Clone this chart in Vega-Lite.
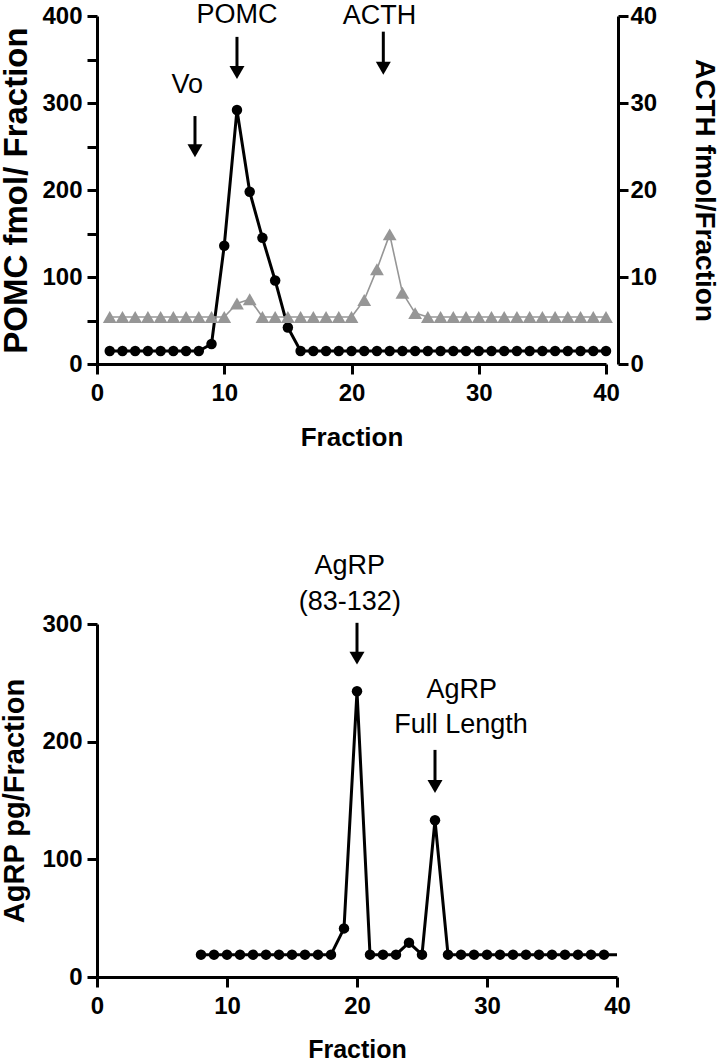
{
  "$schema": "https://vega.github.io/schema/vega-lite/v6.json",
  "padding": {"left": 0, "top": 0, "right": 0, "bottom": 0},
  "datasets": {
    "top": [
      {"fraction": 1, "pomc": 15, "acth": 5.4},
      {"fraction": 2, "pomc": 15, "acth": 5.4},
      {"fraction": 3, "pomc": 15, "acth": 5.4},
      {"fraction": 4, "pomc": 15, "acth": 5.4},
      {"fraction": 5, "pomc": 15, "acth": 5.4},
      {"fraction": 6, "pomc": 15, "acth": 5.4},
      {"fraction": 7, "pomc": 15, "acth": 5.4},
      {"fraction": 8, "pomc": 15, "acth": 5.4},
      {"fraction": 9, "pomc": 23, "acth": 5.4},
      {"fraction": 10, "pomc": 136, "acth": 5.4},
      {"fraction": 11, "pomc": 292, "acth": 6.95},
      {"fraction": 12, "pomc": 198, "acth": 7.45},
      {"fraction": 13, "pomc": 145, "acth": 5.4},
      {"fraction": 14, "pomc": 96, "acth": 5.4},
      {"fraction": 15, "pomc": 42, "acth": 5.4},
      {"fraction": 16, "pomc": 15, "acth": 5.4},
      {"fraction": 17, "pomc": 15, "acth": 5.4},
      {"fraction": 18, "pomc": 15, "acth": 5.4},
      {"fraction": 19, "pomc": 15, "acth": 5.4},
      {"fraction": 20, "pomc": 15, "acth": 5.4},
      {"fraction": 21, "pomc": 15, "acth": 7.35},
      {"fraction": 22, "pomc": 15, "acth": 10.9},
      {"fraction": 23, "pomc": 15, "acth": 14.9},
      {"fraction": 24, "pomc": 15, "acth": 8.2},
      {"fraction": 25, "pomc": 15, "acth": 5.85},
      {"fraction": 26, "pomc": 15, "acth": 5.4},
      {"fraction": 27, "pomc": 15, "acth": 5.4},
      {"fraction": 28, "pomc": 15, "acth": 5.4},
      {"fraction": 29, "pomc": 15, "acth": 5.4},
      {"fraction": 30, "pomc": 15, "acth": 5.4},
      {"fraction": 31, "pomc": 15, "acth": 5.4},
      {"fraction": 32, "pomc": 15, "acth": 5.4},
      {"fraction": 33, "pomc": 15, "acth": 5.4},
      {"fraction": 34, "pomc": 15, "acth": 5.4},
      {"fraction": 35, "pomc": 15, "acth": 5.4},
      {"fraction": 36, "pomc": 15, "acth": 5.4},
      {"fraction": 37, "pomc": 15, "acth": 5.4},
      {"fraction": 38, "pomc": 15, "acth": 5.4},
      {"fraction": 39, "pomc": 15, "acth": 5.4},
      {"fraction": 40, "pomc": 15, "acth": 5.4}
    ],
    "topArrows": [
      {"x": 7.7, "top": 285, "head": 245},
      {"x": 11, "top": 376, "head": 335},
      {"x": 22.5, "top": 382, "head": 340}
    ],
    "topLabels": [
      {"x": 7.09, "y": 311, "text": "Vo"},
      {"x": 11.0, "y": 392, "text": "POMC"},
      {"x": 22.2, "y": 391, "text": "ACTH"}
    ],
    "bottom": [
      {"fraction": 8, "agrp": 19},
      {"fraction": 9, "agrp": 19},
      {"fraction": 10, "agrp": 19},
      {"fraction": 11, "agrp": 19},
      {"fraction": 12, "agrp": 19},
      {"fraction": 13, "agrp": 19},
      {"fraction": 14, "agrp": 19},
      {"fraction": 15, "agrp": 19},
      {"fraction": 16, "agrp": 19},
      {"fraction": 17, "agrp": 19},
      {"fraction": 18, "agrp": 19},
      {"fraction": 19, "agrp": 41.3},
      {"fraction": 20, "agrp": 242.8},
      {"fraction": 21, "agrp": 19},
      {"fraction": 22, "agrp": 19},
      {"fraction": 23, "agrp": 19},
      {"fraction": 24, "agrp": 29.2},
      {"fraction": 25, "agrp": 19},
      {"fraction": 26, "agrp": 133.2},
      {"fraction": 27, "agrp": 19},
      {"fraction": 28, "agrp": 19},
      {"fraction": 29, "agrp": 19},
      {"fraction": 30, "agrp": 19},
      {"fraction": 31, "agrp": 19},
      {"fraction": 32, "agrp": 19},
      {"fraction": 33, "agrp": 19},
      {"fraction": 34, "agrp": 19},
      {"fraction": 35, "agrp": 19},
      {"fraction": 36, "agrp": 19},
      {"fraction": 37, "agrp": 19},
      {"fraction": 38, "agrp": 19},
      {"fraction": 39, "agrp": 19},
      {"fraction": 40, "agrp": 19}
    ],
    "bottomArrows": [
      {"x": 20, "top": 301, "head": 271},
      {"x": 26, "top": 193, "head": 162}
    ],
    "bottomLabels": [
      {"x": 19.45, "y": 342.6, "text": "AgRP"},
      {"x": 19.45, "y": 311.5, "text": "(83-132)"},
      {"x": 28.05, "y": 237, "text": "AgRP"},
      {"x": 28.0, "y": 207.5, "text": "Full Length"}
    ]
  },
  "vconcat": [
    {
      "width": 509,
      "height": 348,
      "layer": [
        {
          "layer": [
            {
              "data": {"name": "top"},
              "mark": {"type": "line", "color": "black", "strokeWidth": 3, "strokeJoin": "round"},
              "encoding": {
                "x": {"field": "fraction", "type": "quantitative", "scale": {"domain": [0, 40], "nice": false},
                      "axis": {"title": "Fraction", "values": [0, 10, 20, 30, 40], "labelPadding": 7, "titlePadding": 19, "titleFontSize": 26}},
                "y": {"field": "pomc", "type": "quantitative", "scale": {"domain": [0, 400], "nice": false},
                      "axis": {"title": "POMC fmol/ Fraction", "values": [0, 50, 100, 150, 200, 250, 300, 350, 400],
                               "labelExpr": "datum.value % 100 === 0 ? datum.label : ''", "labelPadding": 5, "titlePadding": 8, "titleFontSize": 33}}
              }
            },
            {
              "data": {"name": "top"},
              "mark": {"type": "point", "shape": "circle", "filled": true, "size": 110, "color": "black", "opacity": 1},
              "encoding": {
                "x": {"field": "fraction", "type": "quantitative", "scale": {"domain": [0, 40], "nice": false},
                      "axis": {"title": "Fraction", "values": [0, 10, 20, 30, 40], "labelPadding": 7, "titlePadding": 19, "titleFontSize": 26}},
                "y": {"field": "pomc", "type": "quantitative", "scale": {"domain": [0, 400], "nice": false},
                      "axis": {"title": "POMC fmol/ Fraction", "values": [0, 50, 100, 150, 200, 250, 300, 350, 400],
                               "labelExpr": "datum.value % 100 === 0 ? datum.label : ''", "labelPadding": 5, "titlePadding": 8, "titleFontSize": 33}}
              }
            },
            {
              "data": {"name": "topArrows"},
              "mark": {"type": "rule", "color": "black", "strokeWidth": 3},
              "encoding": {
                "x": {"field": "x", "type": "quantitative", "scale": {"domain": [0, 40], "nice": false},
                      "axis": {"title": "Fraction", "values": [0, 10, 20, 30, 40], "labelPadding": 7, "titlePadding": 19, "titleFontSize": 26}},
                "y": {"field": "top", "type": "quantitative", "scale": {"domain": [0, 400], "nice": false},
                      "axis": {"title": "POMC fmol/ Fraction", "values": [0, 50, 100, 150, 200, 250, 300, 350, 400],
                               "labelExpr": "datum.value % 100 === 0 ? datum.label : ''", "labelPadding": 5, "titlePadding": 8, "titleFontSize": 33}},
                "y2": {"field": "head"}
              }
            },
            {
              "data": {"name": "topArrows"},
              "mark": {"type": "point", "shape": "triangle-down", "filled": true, "size": 225, "color": "black", "opacity": 1},
              "encoding": {
                "x": {"field": "x", "type": "quantitative", "scale": {"domain": [0, 40], "nice": false},
                      "axis": {"title": "Fraction", "values": [0, 10, 20, 30, 40], "labelPadding": 7, "titlePadding": 19, "titleFontSize": 26}},
                "y": {"field": "head", "type": "quantitative", "scale": {"domain": [0, 400], "nice": false},
                      "axis": {"title": "POMC fmol/ Fraction", "values": [0, 50, 100, 150, 200, 250, 300, 350, 400],
                               "labelExpr": "datum.value % 100 === 0 ? datum.label : ''", "labelPadding": 5, "titlePadding": 8, "titleFontSize": 33}}
              }
            },
            {
              "data": {"name": "topLabels"},
              "mark": {"type": "text", "font": "Liberation Sans", "fontSize": 27, "align": "center", "baseline": "alphabetic", "color": "black"},
              "encoding": {
                "x": {"field": "x", "type": "quantitative", "scale": {"domain": [0, 40], "nice": false},
                      "axis": {"title": "Fraction", "values": [0, 10, 20, 30, 40], "labelPadding": 7, "titlePadding": 19, "titleFontSize": 26}},
                "y": {"field": "y", "type": "quantitative", "scale": {"domain": [0, 400], "nice": false},
                      "axis": {"title": "POMC fmol/ Fraction", "values": [0, 50, 100, 150, 200, 250, 300, 350, 400],
                               "labelExpr": "datum.value % 100 === 0 ? datum.label : ''", "labelPadding": 5, "titlePadding": 8, "titleFontSize": 33}},
                "text": {"field": "text"}
              }
            }
          ]
        },
        {
          "layer": [
            {
              "data": {"name": "top"},
              "mark": {"type": "line", "color": "#969696", "strokeWidth": 1.6, "strokeJoin": "round"},
              "encoding": {
                "x": {"field": "fraction", "type": "quantitative", "scale": {"domain": [0, 40], "nice": false},
                      "axis": {"title": "Fraction", "values": [0, 10, 20, 30, 40], "labelPadding": 7, "titlePadding": 19, "titleFontSize": 26}},
                "y": {"field": "acth", "type": "quantitative", "scale": {"domain": [0, 40], "nice": false},
                      "axis": {"orient": "right", "title": "ACTH fmol/Fraction", "values": [0, 10, 20, 30, 40], "offset": 12, "labelPadding": 2, "titlePadding": 33, "titleFontSize": 28}}
              }
            },
            {
              "data": {"name": "top"},
              "mark": {"type": "point", "shape": "triangle-up", "filled": true, "size": 190, "color": "#969696", "opacity": 1},
              "encoding": {
                "x": {"field": "fraction", "type": "quantitative", "scale": {"domain": [0, 40], "nice": false},
                      "axis": {"title": "Fraction", "values": [0, 10, 20, 30, 40], "labelPadding": 7, "titlePadding": 19, "titleFontSize": 26}},
                "y": {"field": "acth", "type": "quantitative", "scale": {"domain": [0, 40], "nice": false},
                      "axis": {"orient": "right", "title": "ACTH fmol/Fraction", "values": [0, 10, 20, 30, 40], "offset": 12, "labelPadding": 2, "titlePadding": 33, "titleFontSize": 28}}
              }
            }
          ]
        }
      ],
      "resolve": {"scale": {"y": "independent"}}
    },
    {
      "width": 520,
      "height": 353,
      "layer": [
        {
          "data": {"name": "bottom"},
          "mark": {"type": "line", "color": "black", "strokeWidth": 3, "strokeJoin": "round"},
          "encoding": {
            "x": {"field": "fraction", "type": "quantitative", "scale": {"domain": [0, 40], "nice": false},
                  "axis": {"title": "Fraction", "values": [0, 10, 20, 30, 40], "labelPadding": 7, "titlePadding": 19, "titleFontSize": 25}},
            "y": {"field": "agrp", "type": "quantitative", "scale": {"domain": [0, 300], "nice": false},
                  "axis": {"title": "AgRP pg/Fraction", "values": [0, 100, 200, 300], "labelPadding": 5, "titlePadding": 12, "titleFontSize": 29}}
          }
        },
        {
          "data": {"name": "bottom"},
          "transform": [{"filter": "datum.fraction <= 39"}],
          "mark": {"type": "point", "shape": "circle", "filled": true, "size": 110, "color": "black", "opacity": 1},
          "encoding": {
            "x": {"field": "fraction", "type": "quantitative", "scale": {"domain": [0, 40], "nice": false},
                  "axis": {"title": "Fraction", "values": [0, 10, 20, 30, 40], "labelPadding": 7, "titlePadding": 19, "titleFontSize": 25}},
            "y": {"field": "agrp", "type": "quantitative", "scale": {"domain": [0, 300], "nice": false},
                  "axis": {"title": "AgRP pg/Fraction", "values": [0, 100, 200, 300], "labelPadding": 5, "titlePadding": 12, "titleFontSize": 29}}
          }
        },
        {
          "data": {"name": "bottomArrows"},
          "mark": {"type": "rule", "color": "black", "strokeWidth": 3},
          "encoding": {
            "x": {"field": "x", "type": "quantitative", "scale": {"domain": [0, 40], "nice": false},
                  "axis": {"title": "Fraction", "values": [0, 10, 20, 30, 40], "labelPadding": 7, "titlePadding": 19, "titleFontSize": 25}},
            "y": {"field": "top", "type": "quantitative", "scale": {"domain": [0, 300], "nice": false},
                  "axis": {"title": "AgRP pg/Fraction", "values": [0, 100, 200, 300], "labelPadding": 5, "titlePadding": 12, "titleFontSize": 29}},
            "y2": {"field": "head"}
          }
        },
        {
          "data": {"name": "bottomArrows"},
          "mark": {"type": "point", "shape": "triangle-down", "filled": true, "size": 225, "color": "black", "opacity": 1},
          "encoding": {
            "x": {"field": "x", "type": "quantitative", "scale": {"domain": [0, 40], "nice": false},
                  "axis": {"title": "Fraction", "values": [0, 10, 20, 30, 40], "labelPadding": 7, "titlePadding": 19, "titleFontSize": 25}},
            "y": {"field": "head", "type": "quantitative", "scale": {"domain": [0, 300], "nice": false},
                  "axis": {"title": "AgRP pg/Fraction", "values": [0, 100, 200, 300], "labelPadding": 5, "titlePadding": 12, "titleFontSize": 29}}
          }
        },
        {
          "data": {"name": "bottomLabels"},
          "mark": {"type": "text", "font": "Liberation Sans", "fontSize": 27, "align": "center", "baseline": "alphabetic", "color": "black"},
          "encoding": {
            "x": {"field": "x", "type": "quantitative", "scale": {"domain": [0, 40], "nice": false},
                  "axis": {"title": "Fraction", "values": [0, 10, 20, 30, 40], "labelPadding": 7, "titlePadding": 19, "titleFontSize": 25}},
            "y": {"field": "y", "type": "quantitative", "scale": {"domain": [0, 300], "nice": false},
                  "axis": {"title": "AgRP pg/Fraction", "values": [0, 100, 200, 300], "labelPadding": 5, "titlePadding": 12, "titleFontSize": 29}},
            "text": {"field": "text"}
          }
        }
      ]
    }
  ],
  "spacing": 260,
  "bounds": "flush",
  "config": {
    "view": {"stroke": null},
    "axis": {
      "grid": false,
      "domainColor": "black",
      "domainWidth": 3,
      "tickColor": "black",
      "tickWidth": 3,
      "tickSize": 10,
      "labelFont": "Liberation Sans",
      "labelFontWeight": "bold",
      "labelFontSize": 24,
      "labelColor": "black",
      "labelFlush": false,
      "labelOverlap": false,
      "titleFont": "Liberation Sans",
      "titleFontWeight": "bold",
      "titleColor": "black"
    }
  }
}
